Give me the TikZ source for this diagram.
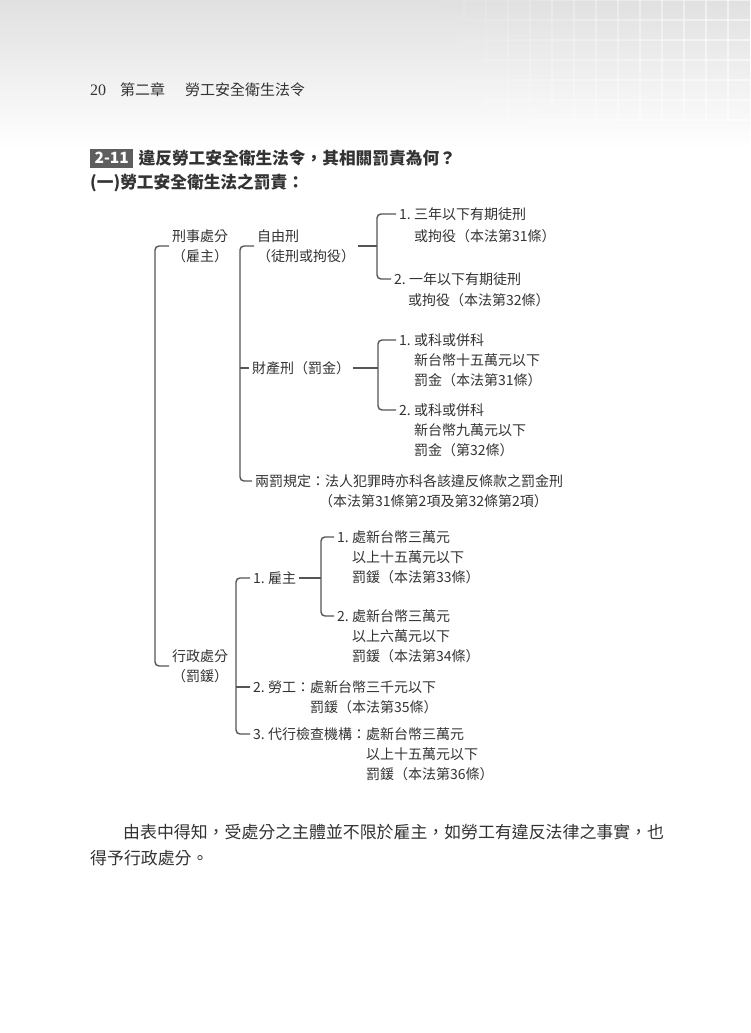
\documentclass[tikz,border=0pt]{standalone}
\usepackage{fontspec}
\setmainfont{Noto Sans CJK TC}
\newfontfamily\pagenumfont{Liberation Serif}
\usetikzlibrary{positioning}
\definecolor{inkgray}{HTML}{333333}
\definecolor{linegray}{HTML}{555555}
\definecolor{tagbox}{HTML}{5E5E5E}
\tikzset{
  brk/.style={draw=linegray, line width=1.4pt, rounded corners=4pt},
  lbl/.style={anchor=west, inner xsep=3pt, inner ysep=1pt, text=inkgray,
    font=\fontsize{14}{20}\selectfont, align=left},
  hdr/.style={anchor=west, inner sep=0pt, text=inkgray, font=\fontsize{15}{18}\selectfont},
}
\begin{document}
\begin{tikzpicture}[x=1pt,y=-1pt]
\useasboundingbox (0,0) rectangle (750,1033);
\fill[white] (0,0) rectangle (750,1033);
\shade[top color=gray!24, bottom color=white] (0,0) rectangle (750,150);
% faint tiles top right, fading to the left
\foreach \gx in {420,442,...,740} {
  \pgfmathsetmacro\tileop{(\gx-420)/320*0.55}
  \draw[white, line width=2pt, opacity=\tileop] (\gx,0) -- (\gx,120);
  \foreach \gy in {0,20,...,120}
    \draw[white, line width=2pt, opacity=\tileop] (\gx,\gy) -- ++(22,0);
}

% page header
\node[hdr, font=\pagenumfont\fontsize{16}{18}\selectfont] (pg) at (90,90) {20};
\node[hdr] (chap) at (120,90) {第二章};
\node[hdr] (chtitle) at (185,90) {勞工安全衛生法令};

% question
\node[fill=tagbox, text=white, font=\bfseries\fontsize{15.5}{18}\selectfont, inner xsep=3pt,
  minimum width=43pt, minimum height=19pt, anchor=west] (tag) at (90,158) {2-11};
\node[right=5pt of tag, inner sep=0pt, text=inkgray, font=\bfseries\fontsize{16.7}{20}\selectfont] (question) {違反勞工安全衛生法令，其相關罰責為何？};
\node[anchor=west, inner sep=0pt, text=inkgray, font=\bfseries\fontsize{16.7}{20}\selectfont] (sub) at (90,183) {(一)勞工安全衛生法之罰責：};

% level 1
\node[lbl] (crim) at (169,246) {刑事處分\\（雇主）};
\node[lbl] (admin) at (169,666) {行政處分\\（罰鍰）};
\draw[brk] (crim.west) -- ++(-14,0) |- (admin.west);

% criminal side
\node[lbl] (free) at (254,246) {自由刑\\（徒刑或拘役）};
\node[lbl] (prop) at (249,368) {財產刑（罰金）};
\node[lbl] (dual) at (252,481) {兩罰規定：法人犯罪時亦科各該違反條款之罰金刑};
\node[lbl] (dualref) at (316,501) {（本法第31條第2項及第32條第2項）};
\draw[brk] (free.west) -- ++(-14,0) |- (dual.west);
\draw[brk] (prop.west) -- ++(-9,0);

\coordinate (fj) at (377,246);
\node[lbl] (f1) at (396,214) {1.~三年以下有期徒刑};
\node[lbl] (f1b) at (411,236) {或拘役（本法第31條）};
\node[lbl] (f2) at (391,279) {2.~一年以下有期徒刑};
\node[lbl] (f2b) at (405,300) {或拘役（本法第32條）};
\draw[brk] (free.east) -- (free.east -| fj);
\draw[brk] (f1.west) -| (fj) |- (f2.west);

\coordinate (pj) at (378,368);
\node[lbl] (p1) at (396,340) {1.~或科或併科};
\node[lbl] (p1b) at (411,370) {新台幣十五萬元以下\\罰金（本法第31條）};
\node[lbl] (p2) at (396,410) {2.~或科或併科};
\node[lbl] (p2b) at (411,440) {新台幣九萬元以下\\罰金（第32條）};
\draw[brk] (prop.east) -- (pj);
\draw[brk] (p1.west) -| (pj) |- (p2.west);

% administrative side
\node[lbl] (emp) at (250,578) {1.~雇主};
\node[lbl] (wrk) at (250,687) {2.~勞工：處新台幣三千元以下};
\node[lbl] (wrkb) at (250,707) {\hphantom{2.~勞工：}罰鍰（本法第35條）};
\node[lbl] (ins) at (250,734) {3.~代行檢查機構：處新台幣三萬元};
\node[lbl] (insb) at (250,764) {\hphantom{3.~代行檢查機構：}以上十五萬元以下\\\hphantom{3.~代行檢查機構：}罰鍰（本法第36條）};
\draw[brk] (emp.west) -- ++(-14,0) |- (ins.west);
\draw[brk] (wrk.west) -- ++(-14,0);

\coordinate (ej) at (321,578);
\node[lbl] (e1) at (334,537) {1.~處新台幣三萬元};
\node[lbl] (e1b) at (349,567) {以上十五萬元以下\\罰鍰（本法第33條）};
\node[lbl] (e2) at (334,616) {2.~處新台幣三萬元};
\node[lbl] (e2b) at (349,646) {以上六萬元以下\\罰鍰（本法第34條）};
\draw[brk] (emp.east) -- (ej);
\draw[brk] (e1.west) -| (ej) |- (e2.west);

% closing paragraph
\node[anchor=west, inner sep=0pt, text=inkgray, font=\fontsize{16.9}{20}\selectfont] (para1) at (123,832) {由表中得知，受處分之主體並不限於雇主，如勞工有違反法律之事實，也};
\node[anchor=west, inner sep=0pt, text=inkgray, font=\fontsize{16.9}{20}\selectfont] (para2) at (90,858) {得予行政處分。};
\end{tikzpicture}
\end{document}
